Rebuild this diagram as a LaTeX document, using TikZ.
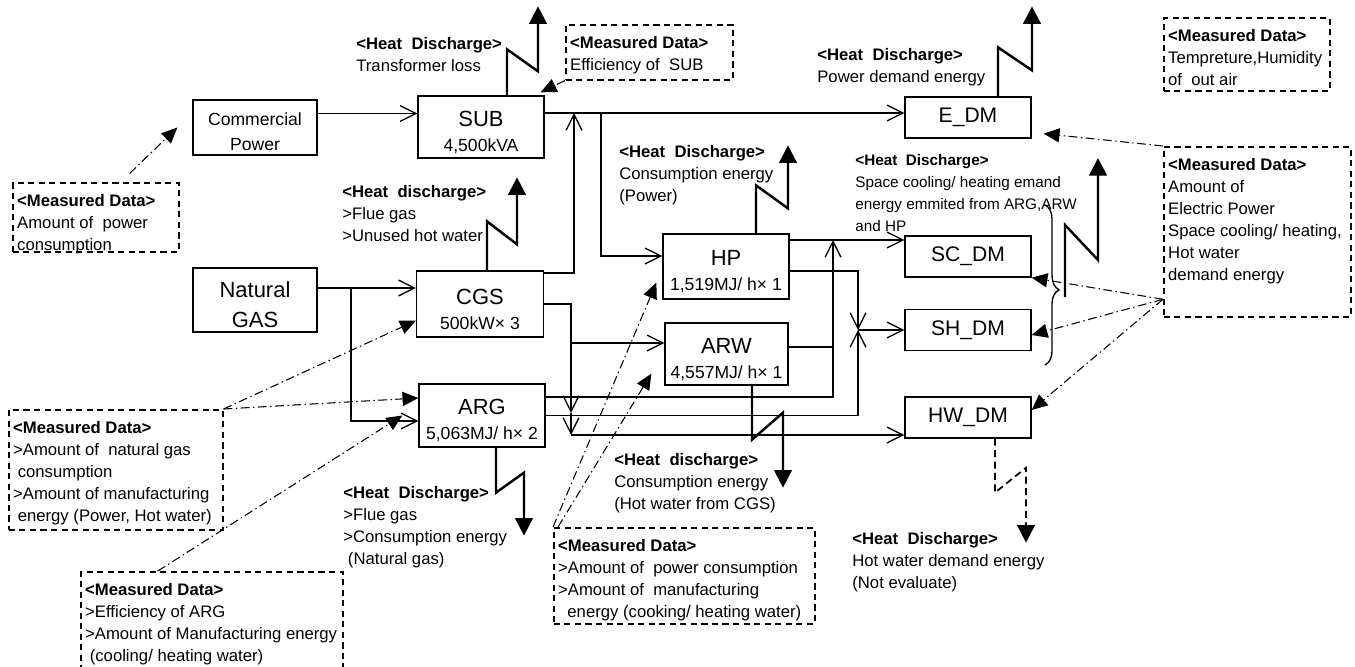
\documentclass[tikz,border=0pt]{standalone}
\usepackage{fontspec}
\setmainfont{Liberation Sans}
\usetikzlibrary{arrows.meta,decorations.pathreplacing}

\newcommand{\bx}[2]{{\fontsize{12.5}{14.2}\selectfont\rule{0pt}{14.5pt}#1}\\#2}
\newcommand{\md}[3]{\parbox[t][\dimexpr#2cm-13pt\relax][t]{\dimexpr#1cm-5pt\relax}{\raggedright#3}}
\newcommand{\hdr}[1]{\textbf{<#1>}}

\begin{document}
\begin{tikzpicture}[x=0.02cm, y=-0.02cm,
  blk/.style={draw, line width=0.75pt, align=center, inner sep=1pt, minimum width=2.52cm,
    font=\fontsize{10}{14.2}\selectfont},
  meas/.style={draw, line width=0.9pt, dash pattern=on 3.5pt off 2.5pt, anchor=north west,
    inner xsep=2.5pt, inner ysep=6.5pt, font=\fontsize{9.5}{12.6}\selectfont},
  hd/.style={anchor=north west, inner sep=0pt, align=left, font=\fontsize{9.5}{12.6}\selectfont},
  flow/.style={line width=0.75pt, -{Straight Barb[length=9pt,width=9pt]}},
  ptr/.style={line width=0.6pt, dash pattern=on 5pt off 2pt on 0.8pt off 2pt,
    -{Triangle[length=9pt,width=8pt]}},
  heat/.style={line width=1.4pt, -{Triangle[length=10pt,width=10pt]}},
  heatd/.style={heat, line width=1pt, dash pattern=on 4pt off 2.5pt}]
  \clip (0,0) rectangle (1355,666);

  % plant blocks
  \node[blk, minimum width=2.48cm, minimum height=1.1cm] (com) at (255,127.5) {\rule{0pt}{12.5pt}Commercial\\Power};
  \node[blk, minimum height=1.24cm] (sub) at (481,127) {\bx{SUB}{4,500kVA}};
  \node[blk, minimum width=2.48cm, minimum height=1.28cm, font=\fontsize{12.5}{17}\selectfont] (gas) at (255,300) {\rule{0pt}{14.5pt}Natural\\GAS};
  \node[blk, minimum width=2.54cm, minimum height=1.32cm] (cgs) at (480,304) {\bx{CGS}{500kW× 3}};
  \node[blk, minimum height=1.26cm] (arg) at (482,415.5) {\bx{ARG}{5,063MJ/ h× 2}};
  \node[blk, minimum height=1.3cm] (hp) at (726,266.5) {\bx{HP}{1,519MJ/ h× 1}};
  \node[blk, minimum width=2.46cm, minimum height=1.24cm] (arw) at (726.5,354) {\bx{ARW}{4,557MJ/ h× 1}};
  \foreach \n/\t/\y in {edm/E\_DM/117.5, scdm/SC\_DM/256.5, shdm/SH\_DM/330, hwdm/HW\_DM/417.5}
    \node[blk, minimum height=0.82cm, font=\fontsize{12}{14}\selectfont] (\n) at (968,\y) {\t};

  % measured data
  \node[meas] (md1) at (12,182) {\md{3.32}{1.38}{\hdr{Measured Data}\\Amount of\ \ power\\consumption}};
  \node[meas] (md2) at (565,24) {\md{3.34}{1.1}{\hdr{Measured Data}\\Efficiency of\ \ SUB}};
  \node[meas] (md3) at (1163,17) {\md{3.32}{1.46}{\hdr{Measured Data}\\Tempreture,Humidity\\of\ \ out air}};
  \node[meas] (md4) at (1163,146) {\md{3.74}{3.4}{\hdr{Measured Data}\\Amount of\\Electric Power\\Space cooling/ heating,\\Hot water\\demand energy}};
  \node[meas] (md5) at (8,409) {\md{4.28}{2.4}{\hdr{Measured Data}\\>Amount of\ \ natural gas\\\ consumption\\>Amount of manufacturing\\\ energy (Power, Hot water)}};
  \node[meas] (md6) at (80,571) {\md{5.24}{2.2}{\hdr{Measured Data}\\>Efficiency of ARG\\>Amount of Manufacturing energy\\\ (cooling/ heating water)}};
  \node[meas] (md7) at (553,527) {\md{5.22}{1.92}{\hdr{Measured Data}\\>Amount of\ \ power consumption\\>Amount of\ \ manufacturing\\\ \ energy (cooking/ heating water)}};

  % heat discharge
  \node[hd] (t1) at (356,37) {\hdr{Heat\ \ Discharge}\\Transformer loss};
  \node[hd] (t2) at (817,48) {\hdr{Heat\ \ Discharge}\\Power demand energy};
  \node[hd] (t3) at (619,145) {\hdr{Heat\ \ Discharge}\\Consumption energy\\(Power)};
  \node[hd] (t4) at (342,185) {\hdr{Heat\ \ discharge}\\>Flue gas\\>Unused hot water};
  \node[hd, font=\fontsize{8.7}{12.6}\selectfont] (t5) at (855,154) {\hdr{Heat\ \ Discharge}\\Space cooling/ heating emand\\energy emmited from ARG,ARW\\and HP};
  \node[hd] (t6) at (343,486) {\hdr{Heat\ \ Discharge}\\>Flue gas\\>Consumption energy\\\ (Natural gas)};
  \node[hd] (t7) at (614,453) {\hdr{Heat\ \ discharge}\\Consumption energy\\(Hot water from CGS)};
  \node[hd] (t8) at (852,532) {\hdr{Heat\ \ Discharge}\\Hot water demand energy\\(Not evaluate)};

  % energy flows
  \draw[flow] ([yshift=0.28cm]com.east) coordinate (c1) -- (c1 -| sub.west);
  \draw[flow] ([yshift=0.28cm]sub.east) coordinate (s1) -- (s1 -| edm.west);
  \coordinate (j1) at (601,113);
  \coordinate (j2) at (574,113);
  \draw[flow] (j1) |- ([yshift=0.21cm]hp.west);
  \draw[flow] ([yshift=0.62cm]cgs.east) -| (j2);
  \draw[flow] ([yshift=0.24cm]gas.east) coordinate (g1) -- (g1 -| cgs.west);
  \coordinate (j3) at (351,288);
  \draw[flow] (j3) |- ([yshift=-0.11cm]arg.west);
  \coordinate (j4) at (571,413);
  \coordinate (j5) at (571,435);
  \coordinate (j6) at (571,343);
  \draw[flow] (cgs.east) -| (j4);
  \draw[flow] (j4) -- (j5);
  \draw[flow] (j5) -- (j5 -| hwdm.west);
  \draw[flow] (j6) -- (j6 -| arw.west);
  \draw[flow] ([yshift=0.53cm]hp.east) coordinate (h1) -- (h1 -| scdm.west);
  \coordinate (j7) at (858,330);
  \coordinate (j8) at (833,240);
  \draw[flow] ([yshift=-0.09cm]hp.east) -| (j7);
  \draw[flow] (arg.east) -| (j7);
  \draw[flow] (j7) -- (j7 -| shdm.west);
  \draw[flow] ([yshift=0.37cm]arg.east) -| (j8);
  \draw[line width=0.75pt] ([yshift=0.14cm]arw.east) coordinate (w1) -- (w1 -| j8);

  % measuring points
  \draw[ptr, shorten <=7pt] ([xshift=0.5cm]md1.north) -- ([xshift=-0.3cm]com.west);
  \draw[ptr] (md2.south west) -- ([shift={(-0.08cm,0.06cm)}]sub.north east);
  \draw[ptr] (md4.north west) -- ([xshift=0.24cm,yshift=0.1cm]edm.south east);
  \coordinate (m4) at ([yshift=-1.35cm]md4.west);
  \draw[ptr] (m4) -- (scdm.south east);
  \draw[ptr] (m4) -- ([yshift=-0.1cm]shdm.east);
  \draw[ptr] (m4) -- ([yshift=0.15cm]hwdm.east);
  \draw[ptr] (md5.north east) -- ([yshift=0.34cm]cgs.south west);
  \draw[ptr] (md5.north east) -- ([yshift=0.35cm]arg.west);
  \draw[ptr] ([xshift=-1.08cm]md6.north) -- ([xshift=-0.32cm]arg.west);
  \draw[ptr] (md7.north west) -- ([shift={(-0.12cm,0.34cm)}]hp.south west);
  \draw[ptr] ([xshift=0.1cm]md7.north west) -- ([shift={(-0.26cm,0.24cm)}]arw.south west);

  % heat out
  \coordinate (bt) at (1065,297);
  \draw[line width=0.75pt, decorate, decoration={brace, amplitude=8pt, aspect=0.53}] (1045,205) -- (1045,365);
  \draw[heat] ([xshift=0.52cm]sub.north) -- ++(0,-46) -- ++(31,22) -- ++(0,-65);
  \draw[heat] ([xshift=0.6cm]edm.north) -- ++(0,-49) -- ++(34,23) -- ++(0,-64);
  \draw[heat] ([xshift=0.6cm]hp.north) -- ++(0,-48) -- ++(32,23) -- ++(0,-63);
  \draw[heat] ([xshift=0.14cm]cgs.north) -- ++(0,-49) -- ++(30,23) -- ++(0,-67);
  \draw[heat] (bt) -- ++(0,-72) -- ++(33,35) -- ++(0,-102);
  \draw[heat] ([xshift=0.28cm]arg.south) -- ++(0,45) -- ++(28,-20) -- ++(0,63);
  \draw[heat] ([xshift=0.51cm]arw.south) -- ++(0,54) -- ++(31,-27) -- ++(0,75);
  \draw[heatd] ([xshift=0.54cm]hwdm.south) -- ++(0,54) -- ++(31,-25) -- ++(0,75);
\end{tikzpicture}
\end{document}
